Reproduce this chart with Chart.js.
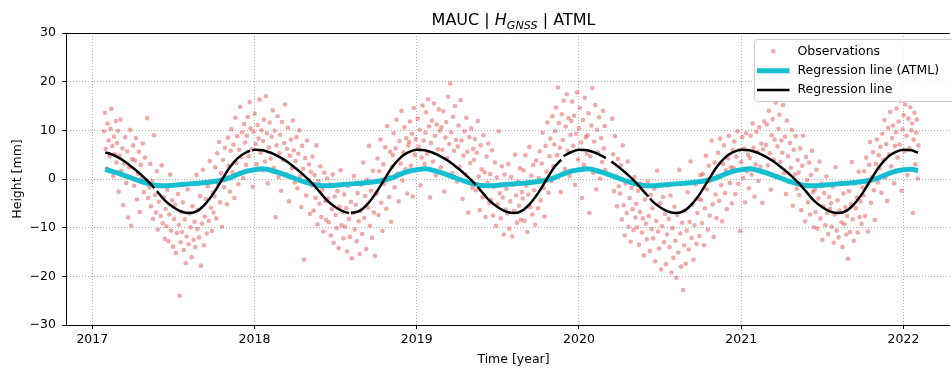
<!DOCTYPE html>
<html>
<head>
<meta charset="utf-8">
<title>MAUC | H GNSS | ATML</title>
<script src="https://cdn.jsdelivr.net/npm/chart.js@4.4.1/dist/chart.umd.min.js"></script>
<style>
  html, body { margin: 0; padding: 0; background: #fff; }
  canvas { display: block; }
</style>
</head>
<body>
<canvas id="chart" width="952" height="369"></canvas>
<script>
// tick values
const xTickYears = [2017, 2018, 2019, 2020, 2021, 2022];
const yTickValues = [-30, -20, -10, 0, 10, 20, 30];

// observations: [decimal year, height in mm]
const obs2017 = [
  [2017.072,9.8],[2017.078,13.6],[2017.083,6.2],[2017.089,2.1],[2017.094,11.4],[2017.101,7.9],[2017.106,4.6],[2017.112,10.3],[2017.117,14.4],[2017.123,6.8],[2017.129,0.6],[2017.134,8.7],[2017.140,5.1],[2017.146,11.9],[2017.149,3.4],
  [2017.153,7.4],[2017.158,9.9],[2017.163,-2.6],[2017.168,4.8],[2017.174,12.2],[2017.179,1.7],[2017.186,6.3],[2017.191,-5.4],[2017.197,3.2],[2017.203,8.6],[2017.209,-0.8],[2017.215,5.7],[2017.221,-7.9],[2017.228,2.4],[2017.234,10.1],[2017.240,-9.6],[2017.246,4.1],
  [2017.252,6.9],[2017.258,-1.4],[2017.263,3.8],[2017.269,8.4],[2017.275,-4.2],[2017.281,1.1],[2017.287,5.6],[2017.293,-6.8],[2017.299,2.9],[2017.305,0.2],[2017.311,7.3],[2017.318,-2.7],[2017.324,4.4],[2017.331,-0.6],[2017.338,12.5],[2017.344,-3.9],
  [2017.352,-1.8],[2017.357,3.1],[2017.362,-5.6],[2017.368,-0.4],[2017.374,-8.2],[2017.381,9.0],[2017.387,-3.3],[2017.392,-6.9],[2017.398,1.6],[2017.404,-10.4],[2017.410,-4.7],[2017.416,-1.2],[2017.422,-7.6],[2017.428,2.8],[2017.434,-9.1],[2017.441,-3.8],[2017.447,-12.3],
  [2017.452,-6.1],[2017.457,-9.7],[2017.463,-2.2],[2017.469,-12.8],[2017.474,-7.3],[2017.480,0.9],[2017.486,-10.6],[2017.492,-4.4],[2017.498,-13.9],[2017.504,-8.2],[2017.510,-5.3],[2017.516,-15.2],[2017.522,-11.1],[2017.528,-3.1],[2017.534,-9.4],[2017.539,-24.0],[2017.545,-13.0],[2017.549,-6.8],
  [2017.553,-10.9],[2017.558,-4.8],[2017.564,-14.6],[2017.570,-8.3],[2017.576,-17.3],[2017.582,-11.8],[2017.588,-2.1],[2017.594,-13.4],[2017.600,-7.1],[2017.606,-9.9],[2017.612,-16.1],[2017.618,-5.6],[2017.624,-12.5],[2017.630,-8.8],[2017.636,-14.0],[2017.642,0.8],[2017.647,-10.3],
  [2017.652,-6.4],[2017.658,-12.0],[2017.664,-3.5],[2017.670,-17.8],[2017.676,-9.2],[2017.682,1.9],[2017.688,-13.6],[2017.694,-7.7],[2017.700,-4.1],[2017.706,-11.2],[2017.712,-1.5],[2017.718,-8.6],[2017.724,3.7],[2017.731,-5.9],[2017.737,-10.7],[2017.743,-2.8],[2017.748,-6.9],
  [2017.753,-3.6],[2017.758,2.4],[2017.764,-8.1],[2017.770,5.3],[2017.776,-0.9],[2017.782,7.6],[2017.788,-4.8],[2017.794,1.2],[2017.800,-9.8],[2017.806,3.9],[2017.812,-1.7],[2017.818,6.4],[2017.824,0.3],[2017.830,-5.2],[2017.836,8.5],[2017.842,2.7],[2017.848,-2.6],
  [2017.853,5.8],[2017.858,10.2],[2017.864,1.4],[2017.870,7.1],[2017.876,-3.9],[2017.882,12.6],[2017.888,3.3],[2017.894,8.8],[2017.900,-1.1],[2017.906,6.0],[2017.912,14.8],[2017.918,4.5],[2017.924,9.6],[2017.930,0.2],[2017.936,11.3],[2017.942,7.5],[2017.948,2.9],
  [2017.953,8.9],[2017.958,12.8],[2017.964,4.7],[2017.970,15.8],[2017.976,10.4],[2017.982,6.1],[2017.988,-1.6],[2017.994,9.7]
];
const obs2018 = [
  [2018.001,13.4],[2018.007,7.2],[2018.013,3.0],[2018.019,11.1],[2018.025,8.3],[2018.031,16.3],[2018.037,5.4],[2018.043,10.0],[2018.049,1.8],
  [2018.053,7.8],[2018.058,12.2],[2018.064,3.6],[2018.070,17.0],[2018.076,9.4],[2018.082,-0.9],[2018.088,6.5],[2018.094,11.6],[2018.100,4.2],[2018.106,8.7],[2018.112,14.1],[2018.118,2.3],[2018.124,9.9],[2018.130,-7.8],[2018.136,6.9],[2018.142,12.9],[2018.148,0.4],
  [2018.153,5.3],[2018.158,9.1],[2018.164,-2.4],[2018.170,11.7],[2018.176,3.9],[2018.182,7.4],[2018.188,15.3],[2018.194,1.0],[2018.200,6.2],[2018.206,10.5],[2018.212,-4.6],[2018.218,4.8],[2018.224,8.1],[2018.230,2.2],[2018.236,12.0],[2018.242,5.9],[2018.248,-0.7],
  [2018.253,3.7],[2018.258,8.6],[2018.264,-1.9],[2018.270,5.2],[2018.276,10.0],[2018.282,0.6],[2018.288,-5.8],[2018.294,6.8],[2018.300,2.1],[2018.306,-16.6],[2018.312,4.3],[2018.318,-3.4],[2018.324,7.9],[2018.330,-0.2],[2018.336,3.0],[2018.342,-7.2],[2018.348,1.5],
  [2018.353,-1.3],[2018.358,4.6],[2018.364,-6.5],[2018.370,0.8],[2018.376,-3.9],[2018.382,6.9],[2018.388,-9.3],[2018.394,-0.4],[2018.400,-5.1],[2018.406,2.6],[2018.412,-7.8],[2018.418,-2.2],[2018.424,-10.8],[2018.430,1.3],[2018.436,-4.5],[2018.442,-8.4],[2018.448,0.1],
  [2018.453,-4.0],[2018.458,-8.9],[2018.464,-1.1],[2018.470,-11.6],[2018.476,-6.2],[2018.482,0.9],[2018.488,-13.1],[2018.494,-3.6],[2018.500,-7.4],[2018.506,-10.1],[2018.512,-2.5],[2018.518,-14.2],[2018.524,-5.7],[2018.530,1.8],[2018.536,-9.5],[2018.542,-6.8],[2018.548,-12.2],
  [2018.553,-3.2],[2018.558,-9.8],[2018.564,-6.0],[2018.570,-14.9],[2018.576,-1.4],[2018.582,-8.2],[2018.588,-11.9],[2018.594,-4.7],[2018.600,-16.3],[2018.606,-7.0],[2018.612,0.6],[2018.618,-10.4],[2018.624,-5.3],[2018.630,-12.8],[2018.636,-2.9],[2018.642,-8.7],[2018.648,-15.4],
  [2018.653,-6.6],[2018.658,-1.2],[2018.664,-11.3],[2018.670,3.4],[2018.676,-8.0],[2018.682,-3.5],[2018.688,-14.4],[2018.694,-0.2],[2018.700,-5.9],[2018.706,6.8],[2018.712,-9.6],[2018.718,-2.4],[2018.724,-12.1],[2018.730,1.7],[2018.736,-6.9],[2018.742,-15.8],[2018.748,-3.1],
  [2018.753,-2.8],[2018.758,4.2],[2018.764,-7.4],[2018.770,1.6],[2018.776,8.1],[2018.782,-4.9],[2018.788,-10.7],[2018.794,3.0],[2018.800,-1.0],[2018.806,6.5],[2018.812,-6.1],[2018.818,10.9],[2018.824,0.4],[2018.830,-3.7],[2018.836,5.6],[2018.842,-8.8],[2018.848,2.5],
  [2018.853,4.9],[2018.858,9.4],[2018.864,-1.7],[2018.870,6.3],[2018.876,12.2],[2018.882,1.1],[2018.888,-4.6],[2018.894,7.8],[2018.900,3.2],[2018.906,14.0],[2018.912,-0.3],[2018.918,5.5],[2018.924,10.6],[2018.930,2.0],[2018.936,8.4],[2018.942,-3.0],[2018.948,6.9],
  [2018.953,7.6],[2018.958,11.8],[2018.964,2.7],[2018.970,9.3],[2018.976,-3.6],[2018.982,14.6],[2018.988,5.0],[2018.994,8.2]
];
const obs2019 = [
  [2019.000,1.9],[2019.006,12.4],[2019.012,6.6],[2019.018,10.1],[2019.024,-1.3],[2019.030,4.4],[2019.036,15.1],[2019.042,7.9],[2019.048,3.1],
  [2019.053,9.5],[2019.058,13.7],[2019.064,5.2],[2019.070,16.4],[2019.076,10.8],[2019.082,-3.8],[2019.088,7.4],[2019.094,12.0],[2019.100,3.6],[2019.106,15.5],[2019.112,8.9],[2019.118,0.7],[2019.124,11.2],[2019.130,6.1],[2019.136,14.3],[2019.142,9.9],[2019.148,2.4],
  [2019.153,10.6],[2019.158,6.0],[2019.164,13.9],[2019.170,-2.6],[2019.176,8.5],[2019.182,11.7],[2019.188,4.3],[2019.194,16.9],[2019.200,7.2],[2019.206,19.6],[2019.212,9.6],[2019.218,1.2],[2019.224,12.8],[2019.230,5.8],[2019.236,15.0],[2019.242,8.0],[2019.248,-0.5],
  [2019.253,6.7],[2019.258,11.0],[2019.264,2.5],[2019.270,16.2],[2019.276,7.9],[2019.282,-4.1],[2019.288,4.8],[2019.294,9.8],[2019.300,0.9],[2019.306,12.6],[2019.312,5.6],[2019.318,-6.9],[2019.324,8.6],[2019.330,3.3],[2019.336,10.4],[2019.342,-1.8],[2019.348,6.2],
  [2019.353,3.9],[2019.358,8.2],[2019.364,-2.3],[2019.370,5.4],[2019.376,11.9],[2019.382,0.5],[2019.388,-6.4],[2019.394,6.9],[2019.400,2.0],[2019.406,-3.7],[2019.412,9.0],[2019.418,1.4],[2019.424,-7.8],[2019.430,4.6],[2019.436,-0.8],[2019.442,7.3],[2019.448,-4.9],
  [2019.453,1.0],[2019.458,-4.3],[2019.464,5.9],[2019.470,-7.5],[2019.476,-1.6],[2019.482,3.4],[2019.488,-9.6],[2019.494,0.3],[2019.500,-5.2],[2019.506,9.8],[2019.512,-2.9],[2019.518,-8.1],[2019.524,2.6],[2019.530,-3.8],[2019.536,-11.4],[2019.542,0.9],[2019.548,-6.3],
  [2019.553,-2.0],[2019.558,-7.1],[2019.564,3.1],[2019.570,-10.2],[2019.576,-4.6],[2019.582,0.4],[2019.588,-11.8],[2019.594,-1.2],[2019.600,-6.6],[2019.606,5.0],[2019.612,-3.4],[2019.618,-9.0],[2019.624,-0.5],[2019.630,-5.5],[2019.636,2.2],[2019.642,-8.4],[2019.648,-2.7],
  [2019.653,-4.0],[2019.658,1.8],[2019.664,-8.6],[2019.670,4.9],[2019.676,-1.4],[2019.682,-10.9],[2019.688,-3.2],[2019.694,6.6],[2019.700,-5.8],[2019.706,0.7],[2019.712,-7.3],[2019.718,2.9],[2019.724,-2.3],[2019.730,-9.4],[2019.736,3.8],[2019.742,-0.6],[2019.748,-6.0],
  [2019.753,0.2],[2019.758,5.7],[2019.764,-4.4],[2019.770,3.2],[2019.776,9.5],[2019.782,-1.9],[2019.788,-7.7],[2019.794,6.8],[2019.800,1.5],[2019.806,11.6],[2019.812,-2.8],[2019.818,4.7],[2019.824,8.3],[2019.830,-0.4],[2019.836,12.9],[2019.842,2.6],[2019.848,7.1],
  [2019.853,9.8],[2019.858,14.7],[2019.864,4.9],[2019.870,18.8],[2019.876,11.5],[2019.882,6.4],[2019.888,-2.7],[2019.894,13.3],[2019.900,8.0],[2019.906,16.1],[2019.912,2.1],[2019.918,10.8],[2019.924,17.4],[2019.930,5.8],[2019.936,12.5],[2019.942,0.6],[2019.948,9.1],
  [2019.953,11.9],[2019.958,15.9],[2019.964,6.8],[2019.970,13.0],[2019.976,-1.2],[2019.982,9.3],[2019.988,17.8],[2019.994,4.0]
];
const obs2020 = [
  [2020.000,10.4],[2020.006,14.6],[2020.012,7.5],[2020.018,-3.9],[2020.024,12.1],[2020.030,2.9],[2020.036,16.7],[2020.042,8.6],[2020.048,5.2],
  [2020.053,9.0],[2020.058,13.5],[2020.064,-7.0],[2020.070,4.6],[2020.076,11.0],[2020.082,18.7],[2020.088,1.3],[2020.094,7.7],[2020.100,15.2],[2020.106,-2.1],[2020.112,10.1],[2020.118,5.5],[2020.124,12.7],[2020.130,0.1],[2020.136,8.4],[2020.142,3.5],[2020.148,14.0],
  [2020.153,6.3],[2020.158,10.9],[2020.162,1.9],[2020.205,12.4],[2020.210,5.1],[2020.216,-2.5],[2020.222,8.8],[2020.228,0.5],[2020.234,-5.6],[2020.240,4.1],[2020.246,-1.5],
  [2020.253,-3.0],[2020.258,2.8],[2020.264,-8.3],[2020.270,6.9],[2020.276,-5.4],[2020.282,-11.6],[2020.288,-0.9],[2020.294,-7.0],[2020.300,3.6],[2020.306,-9.8],[2020.312,-3.9],[2020.318,-12.9],[2020.324,-1.8],[2020.330,-6.2],[2020.336,-10.5],[2020.342,0.4],[2020.348,-7.9],
  [2020.353,-5.1],[2020.358,-9.9],[2020.364,-2.4],[2020.370,-13.5],[2020.376,-6.8],[2020.382,-1.0],[2020.388,-11.0],[2020.394,-8.1],[2020.400,-15.7],[2020.406,-4.2],[2020.412,-9.2],[2020.418,-12.4],[2020.424,-0.5],[2020.430,-7.6],[2020.436,-14.8],[2020.442,-3.3],[2020.448,-10.3],
  [2020.453,-6.0],[2020.458,-12.2],[2020.464,-2.0],[2020.470,-16.9],[2020.476,-8.6],[2020.482,1.7],[2020.488,-10.8],[2020.494,-14.3],[2020.500,-5.0],[2020.506,-18.6],[2020.512,-9.7],[2020.518,-3.7],[2020.524,-13.0],[2020.530,-7.2],[2020.536,-17.5],[2020.542,-11.4],[2020.548,-1.3],
  [2020.553,-8.2],[2020.558,-14.0],[2020.564,-3.4],[2020.570,-19.2],[2020.576,-10.1],[2020.582,-16.2],[2020.588,-5.7],[2020.594,-12.7],[2020.600,-20.3],[2020.606,-7.4],[2020.612,-15.1],[2020.618,1.9],[2020.624,-11.2],[2020.630,-18.0],[2020.636,-9.0],[2020.642,-22.8],[2020.648,-13.6],
  [2020.653,-6.5],[2020.658,-17.4],[2020.664,-10.6],[2020.670,-2.7],[2020.676,-14.5],[2020.682,-8.8],[2020.688,3.6],[2020.694,-12.1],[2020.700,-5.3],[2020.706,-16.6],[2020.712,-9.5],[2020.718,-1.1],[2020.724,-13.3],[2020.730,-7.0],[2020.736,-4.1],[2020.742,-11.7],[2020.748,0.8],
  [2020.753,-4.3],[2020.758,-9.1],[2020.764,1.0],[2020.770,-13.6],[2020.776,-6.0],[2020.782,4.8],[2020.788,-2.1],[2020.794,-10.4],[2020.800,2.7],[2020.806,-7.5],[2020.812,-0.3],[2020.818,7.9],[2020.824,-5.2],[2020.830,-11.9],[2020.836,3.4],[2020.842,-3.2],[2020.848,-8.0],
  [2020.853,0.6],[2020.858,5.4],[2020.864,-4.5],[2020.870,8.3],[2020.876,-1.3],[2020.882,-8.7],[2020.888,3.1],[2020.894,6.9],[2020.900,-2.9],[2020.906,1.8],[2020.912,-6.2],[2020.918,4.2],[2020.924,8.9],[2020.930,-0.8],[2020.936,2.4],[2020.942,-5.0],[2020.948,6.0],
  [2020.953,2.3],[2020.958,7.7],[2020.964,-3.1],[2020.970,4.6],[2020.976,9.8],[2020.982,-1.0],[2020.988,5.9],[2020.994,-10.7]
];
const obs2021 = [
  [2021.000,3.5],[2021.006,8.6],[2021.012,0.2],[2021.018,6.2],[2021.024,-4.8],[2021.030,9.4],[2021.036,1.6],[2021.042,5.0],[2021.048,-1.9],
  [2021.053,4.3],[2021.058,8.9],[2021.064,0.9],[2021.070,11.4],[2021.076,6.4],[2021.082,-3.6],[2021.088,3.0],[2021.094,9.7],[2021.100,5.6],[2021.106,-0.4],[2021.112,10.6],[2021.118,2.5],[2021.124,7.3],[2021.130,-4.9],[2021.136,6.1],[2021.142,11.8],[2021.148,1.4],
  [2021.153,7.0],[2021.158,11.2],[2021.164,2.8],[2021.170,14.0],[2021.176,5.3],[2021.182,-2.2],[2021.188,9.0],[2021.194,12.3],[2021.200,4.0],[2021.206,8.1],[2021.212,15.7],[2021.218,0.6],[2021.224,6.7],[2021.230,10.3],[2021.236,13.2],[2021.242,3.5],[2021.248,7.9],
  [2021.253,5.4],[2021.258,15.2],[2021.264,1.2],[2021.270,8.7],[2021.276,-3.1],[2021.282,12.0],[2021.288,4.7],[2021.294,-0.6],[2021.300,7.4],[2021.306,2.3],[2021.312,10.1],[2021.318,-5.5],[2021.324,6.0],[2021.330,0.9],[2021.336,8.8],[2021.342,-2.0],[2021.348,3.9],
  [2021.353,1.3],[2021.358,-3.3],[2021.364,6.3],[2021.370,-6.4],[2021.376,2.7],[2021.382,8.9],[2021.388,-1.5],[2021.394,-8.7],[2021.400,4.5],[2021.406,-0.2],[2021.412,-4.8],[2021.418,3.4],[2021.424,-7.3],[2021.430,0.8],[2021.436,5.8],[2021.442,-2.7],[2021.448,-9.9],
  [2021.453,-2.2],[2021.458,-6.8],[2021.464,1.9],[2021.470,-10.2],[2021.476,-4.0],[2021.482,3.6],[2021.488,-8.1],[2021.494,-1.0],[2021.500,-12.5],[2021.506,-5.6],[2021.512,-2.9],[2021.518,-9.5],[2021.524,0.5],[2021.530,-7.0],[2021.536,-11.3],[2021.542,-3.7],[2021.548,-6.1],
  [2021.553,-5.0],[2021.558,-9.8],[2021.564,-1.6],[2021.570,-13.1],[2021.576,-7.3],[2021.582,2.4],[2021.588,-10.6],[2021.594,-4.4],[2021.600,-12.0],[2021.606,-6.5],[2021.612,-0.8],[2021.618,-8.9],[2021.624,-14.0],[2021.630,-3.0],[2021.636,-9.3],[2021.642,-5.8],[2021.648,-11.4],
  [2021.653,-7.6],[2021.658,-16.4],[2021.664,-2.5],[2021.670,-10.9],[2021.676,-5.2],[2021.682,3.5],[2021.688,-8.3],[2021.694,-12.7],[2021.700,-0.9],[2021.706,-6.0],[2021.712,-3.8],[2021.718,-11.0],[2021.724,1.5],[2021.730,-7.8],[2021.736,-4.6],[2021.742,-9.2],[2021.748,-1.7],
  [2021.753,-3.4],[2021.758,1.6],[2021.764,-7.6],[2021.770,4.4],[2021.776,-1.2],[2021.782,-10.8],[2021.788,2.9],[2021.794,7.6],[2021.800,-4.9],[2021.806,0.4],[2021.812,5.5],[2021.818,-2.3],[2021.824,-8.4],[2021.830,3.1],[2021.836,8.1],[2021.842,-0.7],[2021.848,4.9],
  [2021.853,2.2],[2021.858,6.6],[2021.864,-2.8],[2021.870,9.3],[2021.876,4.0],[2021.882,12.1],[2021.888,0.3],[2021.894,7.2],[2021.900,-4.5],[2021.906,10.5],[2021.912,5.1],[2021.918,13.8],[2021.924,2.6],[2021.930,8.4],[2021.936,11.0],[2021.942,-0.9],[2021.948,6.8],
  [2021.953,9.6],[2021.958,14.5],[2021.964,4.4],[2021.970,11.8],[2021.976,7.1],[2021.982,16.1],[2021.988,-2.4],[2021.994,10.2]
];
const obs2022 = [
  [2022.000,13.1],[2022.006,5.7],[2022.012,15.3],[2022.018,8.9],[2022.024,0.8],[2022.030,12.4],[2022.036,6.3],[2022.042,14.7],[2022.048,10.0],
  [2022.053,11.4],[2022.058,-7.0],[2022.063,8.1],[2022.068,13.6],[2022.073,3.0],[2022.078,9.5],[2022.083,12.2],[2022.088,0.1],[2022.092,6.9]
];

// regression line with atmospheric loading (ATML)
const atmlLine = [
  [2017.08,2.0],[2017.10,1.8],[2017.15,1.3],[2017.20,0.7],[2017.25,0.1],[2017.30,-0.5],[2017.35,-1.0],[2017.40,-1.35],[2017.45,-1.4],[2017.50,-1.3],[2017.55,-1.15],[2017.60,-1.0],[2017.65,-0.85],[2017.70,-0.7],[2017.75,-0.5],[2017.80,-0.2],[2017.85,0.3],[2017.90,1.0],[2017.95,1.6],
  [2018.00,1.9],[2018.05,2.1],[2018.10,1.8],[2018.15,1.3],[2018.20,0.7],[2018.25,0.1],[2018.30,-0.5],[2018.35,-1.0],[2018.40,-1.35],[2018.45,-1.4],[2018.50,-1.3],[2018.55,-1.15],[2018.60,-1.0],[2018.65,-0.85],[2018.70,-0.7],[2018.75,-0.5],[2018.80,-0.2],[2018.85,0.3],[2018.90,1.0],[2018.95,1.6],
  [2019.00,1.9],[2019.05,2.1],[2019.10,1.8],[2019.15,1.3],[2019.20,0.7],[2019.25,0.1],[2019.30,-0.5],[2019.35,-1.0],[2019.40,-1.35],[2019.45,-1.4],[2019.50,-1.3],[2019.55,-1.15],[2019.60,-1.0],[2019.65,-0.85],[2019.70,-0.7],[2019.75,-0.5],[2019.80,-0.2],[2019.85,0.3],[2019.90,1.0],[2019.95,1.6],
  [2020.00,1.9],[2020.05,2.1],[2020.10,1.8],[2020.15,1.3],[2020.20,0.7],[2020.25,0.1],[2020.30,-0.5],[2020.35,-1.0],[2020.40,-1.35],[2020.45,-1.4],[2020.50,-1.3],[2020.55,-1.15],[2020.60,-1.0],[2020.65,-0.85],[2020.70,-0.7],[2020.75,-0.5],[2020.80,-0.2],[2020.85,0.3],[2020.90,1.0],[2020.95,1.6],
  [2021.00,1.9],[2021.05,2.1],[2021.10,1.8],[2021.15,1.3],[2021.20,0.7],[2021.25,0.1],[2021.30,-0.5],[2021.35,-1.0],[2021.40,-1.35],[2021.45,-1.4],[2021.50,-1.3],[2021.55,-1.15],[2021.60,-1.0],[2021.65,-0.85],[2021.70,-0.7],[2021.75,-0.5],[2021.80,-0.2],[2021.85,0.3],[2021.90,1.0],[2021.95,1.6],
  [2022.00,1.9],[2022.05,2.0],[2022.09,1.7]
];

// regression line, null where the observations have a gap
const regLine = [
  [2017.08,5.4],[2017.10,5.3],[2017.15,4.6],[2017.20,3.6],[2017.25,2.3],[2017.30,0.9],[2017.35,-0.7],[2017.383,-1.9],[2017.39,null],[2017.398,-2.5],[2017.45,-4.5],[2017.50,-5.8],[2017.55,-6.7],[2017.60,-7.0],[2017.65,-6.5],[2017.70,-5.0],[2017.75,-2.8],[2017.80,-0.1],[2017.85,2.5],[2017.90,4.4],[2017.95,5.5],[2017.972,5.8],[2017.978,null],[2017.985,5.9],
  [2018.00,6.0],[2018.05,5.9],[2018.10,5.4],[2018.15,4.6],[2018.20,3.6],[2018.25,2.3],[2018.30,0.9],[2018.35,-0.7],[2018.40,-2.6],[2018.45,-4.5],[2018.50,-5.8],[2018.55,-6.7],[2018.582,-7.0],[2018.588,null],[2018.595,-7.0],[2018.65,-6.5],[2018.70,-5.0],[2018.75,-2.8],[2018.80,-0.1],[2018.85,2.5],[2018.90,4.4],[2018.95,5.5],
  [2019.00,6.0],[2019.05,5.9],[2019.10,5.4],[2019.15,4.6],[2019.20,3.6],[2019.25,2.3],[2019.30,0.9],[2019.35,-0.7],[2019.363,-1.2],[2019.368,null],[2019.375,-1.6],[2019.40,-2.6],[2019.45,-4.5],[2019.50,-5.8],[2019.55,-6.7],[2019.60,-7.0],[2019.65,-6.5],[2019.70,-5.0],[2019.75,-2.8],[2019.80,-0.1],[2019.85,2.5],[2019.891,4.0],[2019.897,null],[2019.905,4.7],[2019.95,5.5],
  [2020.00,6.0],[2020.05,5.9],[2020.10,5.4],[2020.15,4.6],[2020.165,4.3],[2020.18,null],[2020.20,3.6],[2020.25,2.3],[2020.30,0.9],[2020.35,-0.7],[2020.40,-2.6],[2020.428,-3.6],[2020.433,null],[2020.438,-4.0],[2020.45,-4.5],[2020.50,-5.8],[2020.55,-6.7],[2020.60,-7.0],[2020.65,-6.5],[2020.70,-5.0],[2020.75,-2.8],[2020.80,-0.1],[2020.85,2.5],[2020.90,4.4],[2020.95,5.5],
  [2021.00,6.0],[2021.05,5.9],[2021.10,5.4],[2021.15,4.6],[2021.20,3.6],[2021.25,2.3],[2021.30,0.9],[2021.35,-0.7],[2021.40,-2.6],[2021.45,-4.5],[2021.50,-5.8],[2021.55,-6.7],[2021.60,-7.0],[2021.65,-6.5],[2021.70,-5.0],[2021.75,-2.8],[2021.80,-0.1],[2021.85,2.5],[2021.90,4.4],[2021.95,5.5],
  [2022.00,6.0],[2022.05,5.9],[2022.09,5.4]
];

const FONT = "'DejaVu Sans', sans-serif";
const OBS_COLOR = 'rgba(214,39,40,0.4)';
const ATML_COLOR = '#17becf';

const toXY = arr => arr.map(([x, y]) => ({ x, y }));
const observations = toXY([...obs2017, ...obs2018, ...obs2019, ...obs2020, ...obs2021, ...obs2022]);

// title, axis labels, top spine and legend drawn in matplotlib style
const decorPlugin = {
  id: 'decor',
  afterDraw(chart) {
    const ctx = chart.ctx;
    const a = chart.chartArea;
    const midX = 513.5;
    ctx.save();

    // top spine
    ctx.strokeStyle = '#000';
    ctx.lineWidth = 1;
    ctx.beginPath();
    ctx.moveTo(a.left, Math.round(a.top) + 0.5);
    ctx.lineTo(a.right, Math.round(a.top) + 0.5);
    ctx.stroke();

    // title: MAUC | H_GNSS | ATML
    const parts = [
      { t: 'MAUC | ', f: `16px ${FONT}`, dy: 0 },
      { t: 'H', f: `italic 16px ${FONT}`, dy: 0 },
      { t: 'GNSS', f: `italic 11.2px ${FONT}`, dy: 3.6 },
      { t: ' | ATML', f: `16px ${FONT}`, dy: 0 }
    ];
    let total = 0;
    parts.forEach(p => { ctx.font = p.f; p.w = ctx.measureText(p.t).width; total += p.w; });
    let tx = midX - total / 2;
    ctx.fillStyle = '#000';
    ctx.textAlign = 'left';
    ctx.textBaseline = 'alphabetic';
    parts.forEach(p => { ctx.font = p.f; ctx.fillText(p.t, tx, 25 + p.dy); tx += p.w; });

    // axis titles
    ctx.font = `12.5px ${FONT}`;
    ctx.textAlign = 'center';
    ctx.fillText('Time [year]', midX, 363);
    ctx.save();
    ctx.translate(21, (a.top + a.bottom) / 2);
    ctx.rotate(-Math.PI / 2);
    ctx.fillText('Height [mm]', 0, 0);
    ctx.restore();

    // legend
    const lx = 754.5, ly = 39.5;
    ctx.fillStyle = 'rgba(255,255,255,0.8)';
    ctx.strokeStyle = '#cccccc';
    ctx.lineWidth = 1;
    ctx.beginPath();
    ctx.roundRect(lx, ly, 220, 62, 3);
    ctx.fill();
    ctx.stroke();

    const rows = [51.3, 70.7, 90.0];
    ctx.fillStyle = OBS_COLOR;
    ctx.beginPath();
    ctx.arc(lx + 18.8, rows[0], 2.3, 0, Math.PI * 2);
    ctx.fill();

    ctx.lineCap = 'butt';
    ctx.strokeStyle = ATML_COLOR;
    ctx.lineWidth = 5;
    ctx.beginPath();
    ctx.moveTo(lx + 2.5, rows[1]);
    ctx.lineTo(lx + 35, rows[1]);
    ctx.stroke();

    ctx.strokeStyle = '#000';
    ctx.lineWidth = 2.5;
    ctx.beginPath();
    ctx.moveTo(lx + 2.5, rows[2]);
    ctx.lineTo(lx + 35, rows[2]);
    ctx.stroke();

    ctx.fillStyle = '#000';
    ctx.font = `12.5px ${FONT}`;
    ctx.textAlign = 'left';
    ctx.textBaseline = 'middle';
    ctx.fillText('Observations', lx + 43, rows[0]);
    ctx.fillText('Regression line (ATML)', lx + 43, rows[1]);
    ctx.fillText('Regression line', lx + 43, rows[2]);

    ctx.restore();
  }
};

const gridOpts = { color: '#b0b0b0', lineWidth: 1, tickColor: '#000', tickLength: 4, tickWidth: 1 };
const borderOpts = { color: '#000', width: 1, dash: [1, 2] };
const tickFont = { family: FONT, size: 12.5 };

new Chart(document.getElementById('chart'), {
  type: 'scatter',
  data: {
    datasets: [
      {
        label: 'Observations',
        data: observations,
        backgroundColor: OBS_COLOR,
        borderWidth: 0,
        pointRadius: 2.3,
        pointHoverRadius: 2.3,
        order: 3
      },
      {
        label: 'Regression line (ATML)',
        data: toXY(atmlLine),
        showLine: true,
        borderColor: ATML_COLOR,
        borderWidth: 5,
        pointRadius: 0,
        cubicInterpolationMode: 'monotone',
        order: 2
      },
      {
        label: 'Regression line',
        data: toXY(regLine),
        showLine: true,
        spanGaps: false,
        borderColor: '#000',
        borderWidth: 2.5,
        pointRadius: 0,
        cubicInterpolationMode: 'monotone',
        order: 1
      }
    ]
  },
  options: {
    responsive: false,
    animation: false,
    events: [],
    layout: { padding: { top: 33, left: 0, right: 0, bottom: 0 } },
    plugins: {
      legend: { display: false },
      title: { display: false },
      tooltip: { enabled: false }
    },
    scales: {
      x: {
        type: 'linear',
        min: 2016.838,
        max: 2022.285,
        afterFit: s => { s.height = 44; },
        afterBuildTicks: s => { s.ticks = xTickYears.map(v => ({ value: v })); },
        ticks: { callback: v => String(v), color: '#000', font: tickFont, padding: 3, autoSkip: false, maxRotation: 0 },
        grid: gridOpts,
        border: borderOpts
      },
      y: {
        type: 'linear',
        min: -30,
        max: 30,
        afterFit: s => { s.width = 66; },
        afterBuildTicks: s => { s.ticks = yTickValues.map(v => ({ value: v })); },
        ticks: { callback: v => (v < 0 ? '\u2212' + Math.abs(v) : String(v)), color: '#000', font: tickFont, padding: 6, autoSkip: false },
        grid: gridOpts,
        border: borderOpts
      }
    }
  },
  plugins: [decorPlugin]
});
</script>
</body>
</html>
